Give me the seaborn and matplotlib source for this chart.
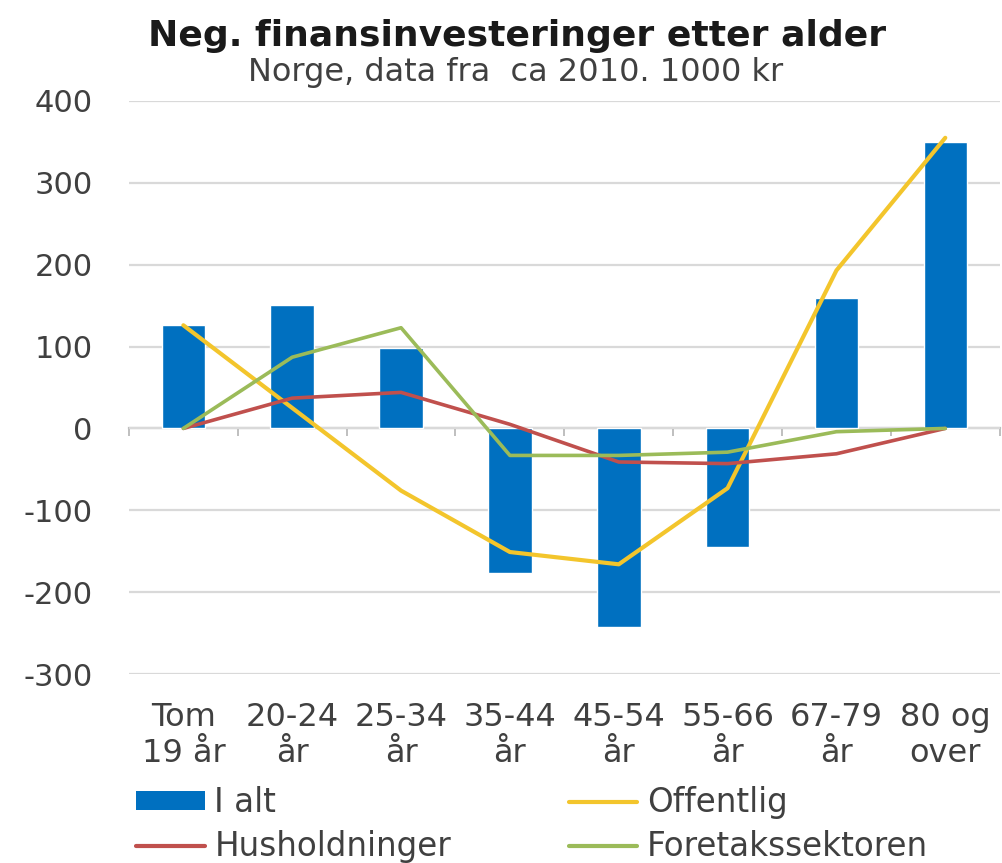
import matplotlib
matplotlib.use("Agg")
import matplotlib.pyplot as plt
import seaborn as sns
import numpy as np
import pandas as pd
from matplotlib.patches import Patch
from matplotlib.lines import Line2D

# Age groups and values (1000 kr)
categories = ["Tom\n19 år", "20-24\når", "25-34\når", "35-44\når",
              "45-54\når", "55-66\når", "67-79\når", "80 og\nover"]
i_alt = [126, 151, 98, -177, -243, -145, 159, 350]
offentlig = [126, 25, -76, -151, -166, -73, 193, 355]
husholdninger = [0, 37, 44, 5, -41, -43, -31, 0]
foretakssektoren = [0, 87, 123, -33, -33, -29, -4, 0]

title = "Neg. finansinvesteringer etter alder"
subtitle = "Norge, data fra  ca 2010. 1000 kr"
y_ticks = [-300, -200, -100, 0, 100, 200, 300, 400]

sns.set_theme(style="white")
plt.rcParams["font.family"] = ["DejaVu Sans"]

BLUE = "#0070C0"
YELLOW = "#F3C52C"
RED = "#C0504D"
GREEN = "#9BBB59"
GRID = "#D9D9D9"
TEXT = "#404040"

fig = plt.figure(figsize=(10.02, 8.63), dpi=100)
ax = fig.add_axes([0.1287, 0.219, 0.869, 0.664])

df = pd.DataFrame({"alder": categories, "I alt": i_alt})
sns.barplot(data=df, x="alder", y="I alt", color=BLUE, width=0.4,
            saturation=1, ax=ax, zorder=2)

pos = np.arange(len(categories))
lines = [("Offentlig", offentlig, YELLOW, 3.0),
         ("Husholdninger", husholdninger, RED, 2.6),
         ("Foretakssektoren", foretakssektoren, GREEN, 2.6)]
for name, vals, col, lw in lines:
    sns.lineplot(x=pos, y=vals, color=col, linewidth=lw, ax=ax,
                 zorder=3, legend=False)

ax.set_xlim(-0.5, len(categories) - 0.5)
ax.set_ylim(-300, 400)
ax.set_yticks(y_ticks)
ax.set_yticklabels([str(v) for v in y_ticks])
ax.set_xlabel("")
ax.set_ylabel("")
for s in ax.spines.values():
    s.set_visible(False)
ax.grid(axis="y", color=GRID, linewidth=1.6, zorder=0)
ax.grid(axis="x", visible=False)
ax.set_axisbelow(True)
ax.tick_params(axis="y", length=0, pad=26, labelsize=22, labelcolor=TEXT)
ax.tick_params(axis="x", length=0, pad=20, labelsize=23, labelcolor=TEXT)
for lab in ax.get_xticklabels():
    lab.set_linespacing(1.2)

# zero axis line with category boundary ticks
zero_frac = (0 - (-300)) / (400 - (-300))
sec = ax.secondary_xaxis(zero_frac)
sec.spines["bottom"].set_color("#BFBFBF")
sec.spines["bottom"].set_linewidth(1.6)
sec.set_xticks(np.arange(len(categories) + 1) - 0.5)
sec.tick_params(axis="x", length=6, width=1.4, color="#BFBFBF",
                labelbottom=False, direction="out")

fig.text(0.516, 0.958, title, ha="center", va="center", fontsize=26,
         fontweight="bold", color="#1a1a1a")
fig.text(0.515, 0.916, subtitle, ha="center", va="center", fontsize=23,
         color=TEXT)

handles = [Patch(facecolor=BLUE, edgecolor="none"),
           Line2D([0], [0], color=RED, linewidth=3),
           Line2D([0], [0], color=YELLOW, linewidth=3),
           Line2D([0], [0], color=GREEN, linewidth=3)]
labels = ["I alt", "Husholdninger", "Offentlig", "Foretakssektoren"]
leg = fig.legend(handles, labels, ncol=2, loc="lower left",
                 bbox_to_anchor=(0.113, -0.027), frameon=False,
                 fontsize=23.5, handlelength=2.1, handleheight=0.5,
                 handletextpad=0.3, columnspacing=3.6, labelspacing=0.35,
                 borderpad=0.2)
for t in leg.get_texts():
    t.set_color(TEXT)

fig.savefig("out.png", dpi=100)
